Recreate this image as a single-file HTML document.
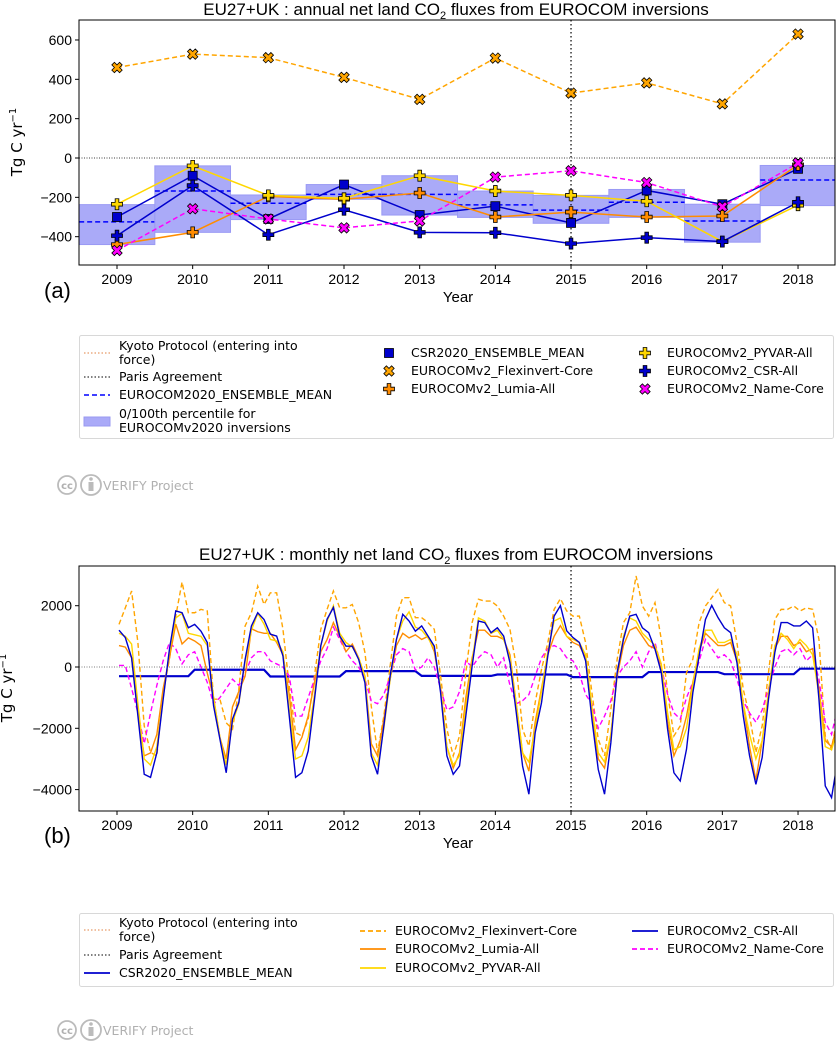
<!DOCTYPE html>
<html><head><meta charset="utf-8">
<style>
html,body{margin:0;padding:0;background:#fff;}
svg{display:block;}
.tick{font-family:"Liberation Sans Narrow","Liberation Sans",sans-serif;font-size:14px;fill:#000;}
.ttl{font-family:"Liberation Sans Narrow","Liberation Sans",sans-serif;font-size:17px;fill:#000;}
.lg{font-family:"DejaVu Sans",sans-serif;font-size:12.5px;fill:#000;}
.ft{font-family:"DejaVu Sans",sans-serif;font-size:12.5px;fill:#b0b0b0;}
</style></head>
<body>
<svg id="fig" width="836" height="1043" viewBox="0 0 836 1043" xmlns="http://www.w3.org/2000/svg">
<defs>
<clipPath id="clipA"><rect x="79" y="20" width="756" height="245"/></clipPath>
<clipPath id="clipB"><rect x="79" y="566" width="756" height="245"/></clipPath>
</defs>
<text class="ttl" x="456" y="15" text-anchor="middle">EU27+UK : annual net land CO<tspan font-size="11" dy="4">2</tspan><tspan dy="-4"> fluxes from EUROCOM inversions</tspan></text>
<g id="gA"></g>
<rect x="79" y="20" width="756" height="245" fill="none" stroke="#000" stroke-width="1"/>
<text x="22" y="142" transform="rotate(-90 22 142)" text-anchor="middle" class="lg" style="font-size:15px">Tg C yr<tspan font-size="10" dy="-6">−1</tspan></text>
<text x="458" y="302" text-anchor="middle" class="tick" style="font-size:15px">Year</text>
<text x="44" y="298" class="tick" style="font-size:22px">(a)</text>

<g>
<rect x="79.5" y="335.5" width="754" height="103" rx="2" fill="#fff" stroke="#d8d8d8"/>
<line x1="84" y1="353" x2="110" y2="353" stroke="#e08040" stroke-dasharray="1.5,2"/>
<text class="lg" x="119" y="350">Kyoto Protocol (entering into</text>
<text class="lg" x="119" y="364">force)</text>
<line x1="84" y1="377" x2="110" y2="377" stroke="#000" stroke-dasharray="1.5,2"/>
<text class="lg" x="119" y="381">Paris Agreement</text>
<line x1="84" y1="395" x2="110" y2="395" stroke="#0000ff" stroke-width="1.5" stroke-dasharray="5,3"/>
<text class="lg" x="119" y="399">EUROCOM2020_ENSEMBLE_MEAN</text>
<rect x="84" y="417" width="26" height="9" fill="#aaaaf8" stroke="#9999f0"/>
<text class="lg" x="119" y="418">0/100th percentile for</text>
<text class="lg" x="119" y="432">EUROCOMv2020 inversions</text>
<g id="legA2"></g>
</g>
<g>
<circle cx="67" cy="485" r="9" fill="none" stroke="#bbb" stroke-width="1.8"/>
<text x="67" y="489" text-anchor="middle" class="ft" style="font-size:10px;font-weight:bold">cc</text>
<circle cx="91" cy="485" r="10" fill="none" stroke="#bbb" stroke-width="1.8"/>
<circle cx="91" cy="479" r="1.8" fill="#bbb"/><rect x="88.5" y="482" width="5" height="9" fill="#bbb"/>
<text class="ft" x="103" y="490">VERIFY Project</text>
</g>

<text class="ttl" x="456" y="560" text-anchor="middle">EU27+UK : monthly net land CO<tspan font-size="11" dy="4">2</tspan><tspan dy="-4"> fluxes from EUROCOM inversions</tspan></text>
<g id="gB"></g>
<rect x="79" y="566" width="756" height="245" fill="none" stroke="#000" stroke-width="1"/>
<text x="12" y="688" transform="rotate(-90 12 688)" text-anchor="middle" class="lg" style="font-size:15px">Tg C yr<tspan font-size="10" dy="-6">−1</tspan></text>
<text x="458" y="848" text-anchor="middle" class="tick" style="font-size:15px">Year</text>
<text x="44" y="843" class="tick" style="font-size:22px">(b)</text>

<g>
<rect x="79.5" y="913.5" width="754" height="73" rx="2" fill="#fff" stroke="#d8d8d8"/>
<line x1="84" y1="930" x2="110" y2="930" stroke="#e08040" stroke-dasharray="1.5,2"/>
<text class="lg" x="119" y="927">Kyoto Protocol (entering into</text>
<text class="lg" x="119" y="941">force)</text>
<line x1="84" y1="955" x2="110" y2="955" stroke="#000" stroke-dasharray="1.5,2"/>
<text class="lg" x="119" y="959">Paris Agreement</text>
<line x1="84" y1="973" x2="110" y2="973" stroke="#0000cd" stroke-width="1.8"/>
<text class="lg" x="119" y="977">CSR2020_ENSEMBLE_MEAN</text>
<g id="legB2"></g>
</g>
<g>
<circle cx="67" cy="1030" r="9" fill="none" stroke="#bbb" stroke-width="1.8"/>
<text x="67" y="1034" text-anchor="middle" class="ft" style="font-size:10px;font-weight:bold">cc</text>
<circle cx="91" cy="1030" r="10" fill="none" stroke="#bbb" stroke-width="1.8"/>
<circle cx="91" cy="1024" r="1.8" fill="#bbb"/><rect x="88.5" y="1027" width="5" height="9" fill="#bbb"/>
<text class="ft" x="103" y="1035">VERIFY Project</text>
</g>
</svg>
<script>
const years = [2009,2010,2011,2012,2013,2014,2015,2016,2017,2018];
const annualYTicks = [-400,-200,0,200,400,600];
const csr2020Annual = [-300,-90,-310,-135,-290,-245,-330,-165,-235,-55];
const flexAnnual = [460,528,510,410,298,508,330,382,275,630];
const lumiaAnnual = [-440,-378,-195,-210,-178,-300,-275,-300,-295,-35];
const pyvarAnnual = [-235,-40,-190,-205,-90,-168,-190,-220,-425,-240];
const csrAllAnnual = [-395,-140,-390,-263,-378,-380,-435,-405,-425,-225];
const nameAnnual = [-470,-258,-310,-355,-320,-97,-65,-125,-248,-25];
const ensMeanAnnual = [-325,-168,-230,-185,-185,-238,-265,-225,-320,-112];
const pctMin = [-440,-378,-313,-210,-290,-302,-332,-302,-428,-242];
const pctMax = [-237,-40,-188,-135,-90,-168,-190,-160,-235,-38];

const monthlyYTicks = [-4000,-2000,0,2000];
const csrAllMonthly = [1200,960,300,-1600,-3500,-3600,-2800,-1060,580,1830,1770,1280,
1390,1170,800,-1270,-2350,-3450,-1700,-1160,250,1340,1770,1550,
1070,1010,360,-1600,-3600,-3450,-2740,-1060,690,1560,1940,1010,
680,680,250,-510,-2900,-3500,-1920,-290,900,1720,1500,1170,
1340,1010,680,-840,-2900,-3500,-3230,-1600,30,1500,1450,1120,
1280,1010,140,-1490,-3230,-4150,-2140,-1170,360,1660,2000,1180,
960,800,200,-1710,-3340,-4150,-2470,-180,900,1660,1720,1280,
1120,580,-180,-2030,-3450,-3720,-2680,-840,360,1550,2010,1610,
1280,1120,140,-1600,-2900,-3830,-2950,-1050,470,1450,1450,1340,
1340,1500,1280,-1050,-3880,-4260,-3000];
const flexMonthly = [1390,1930,2480,790,-1920,-2790,-2900,-840,250,1660,2770,1770,
1770,1880,1830,-1050,-1050,-1820,-2030,-730,1340,1770,2640,2040,
2420,2420,1230,-620,-2140,-2250,-1710,-290,1230,1880,2480,1930,
1930,2040,1450,470,-1270,-2790,-1600,30,1660,2260,2260,1610,
1610,1450,1230,-290,-2030,-2900,-2250,-180,1450,2210,2150,2150,
1990,1660,1230,30,-2030,-2580,-1160,-80,790,1880,2230,1830,
1660,1660,790,-840,-2360,-2900,-1380,250,1450,1770,2970,1990,
1660,2100,900,-840,-2250,-1920,-180,250,1450,1990,2260,2530,
2100,1990,790,-730,-1600,-2790,-1920,-180,1550,1880,1880,1990,
1830,1930,1880,900,-2250,-2680,-1500];
const lumiaMonthly = [700,650,300,-1500,-2900,-2800,-2200,-700,300,1400,750,950,
850,700,-200,-1000,-2300,-3000,-1300,-800,-300,1250,1150,1100,
1100,800,400,-900,-2700,-2300,-1600,-500,500,900,1450,1000,
500,750,300,-300,-2500,-2900,-1700,-400,700,1100,950,1050,
900,1000,500,-700,-2600,-3300,-2800,-1000,300,1200,1200,1000,
1000,900,400,-1200,-2800,-3400,-1800,-700,400,1000,1350,1000,
800,700,300,-1400,-3000,-3300,-2200,-300,700,1200,1300,1000,
700,600,-100,-1800,-2900,-2400,-1600,-500,500,1100,900,700,
700,800,200,-1200,-2600,-3700,-2400,-900,600,1000,1000,700,
800,500,600,-700,-2400,-2600,-1800];
const pyvarMonthly = [1100,1000,750,-1200,-3000,-3200,-2600,-1000,500,1600,1750,1100,
1050,1000,700,-1000,-2300,-3200,-1800,-1200,200,1200,1750,1400,
900,850,500,-1400,-3000,-2900,-2300,-900,700,1500,2000,1100,
800,650,300,-300,-2800,-3200,-2000,-400,900,1500,1800,1300,
1200,950,600,-700,-2600,-3200,-2900,-1300,200,1600,1500,1100,
1200,900,300,-1200,-2800,-3100,-2000,-800,500,1500,1600,1000,
900,800,400,-1300,-2800,-3100,-2200,-200,1000,1600,1500,1100,
900,700,100,-1500,-2700,-2600,-2000,-600,600,1200,1200,800,
800,900,400,-1200,-2200,-3000,-2400,-800,700,1100,900,600,
900,700,400,-900,-2600,-2700,-2000];
const nameMonthly = [50,50,-700,-1500,-2500,-1500,-600,200,800,600,100,400,
500,0,-500,-1200,-1000,-700,-400,-600,-200,300,500,500,
200,100,0,-300,-1600,-1600,-1000,-400,200,600,1300,900,
500,200,0,-400,-1100,-1200,-900,-300,400,600,500,-100,
0,300,0,-700,-1400,-1300,-800,200,0,300,500,400,
0,300,-600,-1200,-1100,-900,-300,300,600,700,600,300,
200,-200,-900,-1200,-2000,-1600,-1100,-300,0,200,500,0,
500,800,0,-900,-1500,-1700,-1000,-500,200,900,600,300,
400,200,-400,-1100,-1500,-1800,-1400,-700,0,500,600,400,
600,200,400,-400,-1800,-2200,-1300];
const csr2020Monthly = [];
for (let i=0;i<csrAllMonthly.length;i++){ csr2020Monthly.push(csr2020Annual[Math.min(Math.floor(i/12),9)]); }

const NS="http://www.w3.org/2000/svg";
function mk(tag, attrs, parent){ const e=document.createElementNS(NS,tag); for(const k in attrs) e.setAttribute(k,attrs[k]); parent.appendChild(e); return e; }

const xYear = y => 117 + (y-2009)*75.67;
const yA = v => 158 - v*0.1967;
const xMonth = i => xYear(2009 + i/12) + 2;
const yB = v => 667 - v*0.03065;

function plusPath(cx,cy,s){ const a=s/2,b=s/6; return `M${cx-b},${cy-a}H${cx+b}V${cy-b}H${cx+a}V${cy+b}H${cx+b}V${cy+a}H${cx-b}V${cy+b}H${cx-a}V${cy-b}H${cx-b}Z`; }
function marker(kind,cx,cy,color,parent){
  let el;
  if(kind==='sq'){ el=mk('rect',{x:cx-4.5,y:cy-4.5,width:9,height:9,fill:color,stroke:'#000','stroke-width':0.8},parent); }
  else if(kind==='plus'){ el=mk('path',{d:plusPath(cx,cy,11),fill:color,stroke:'#000','stroke-width':0.8},parent); }
  else { el=mk('path',{d:plusPath(cx,cy,11),fill:color,stroke:'#000','stroke-width':0.8,transform:`rotate(45 ${cx} ${cy})`},parent); }
  return el;
}

const gA=document.getElementById('gA');
const clA=mk('g',{'clip-path':'url(#clipA)'},gA);
years.forEach((yr,k)=>{
  const r=mk('rect',{x:xYear(yr-0.5),y:yA(pctMax[k]),width:75.67,height:yA(pctMin[k])-yA(pctMax[k]),fill:'#aaaaf8',stroke:'#9a9af4','stroke-width':1},clA);
  
  
  const m=mk('line',{x1:xYear(yr-0.5),x2:xYear(yr+0.5),y1:yA(ensMeanAnnual[k]),y2:yA(ensMeanAnnual[k]),stroke:'#0000ff','stroke-width':1.5,'stroke-dasharray':'5,3'},clA);
  
  
});
let z=mk('line',{x1:79,x2:835,y1:yA(0),y2:yA(0),stroke:'#000','stroke-width':0.8,'stroke-dasharray':'1,1.5'},clA);


let pa=mk('line',{x1:xYear(2015),x2:xYear(2015),y1:20,y2:265,stroke:'#000','stroke-width':1.2,'stroke-dasharray':'1.5,2.5'},clA);


const seriesA=[
 {n:'csr2020',d:csr2020Annual,c:'#0000cd',m:'sq',dash:null,w:1.5},
 {n:'flexinvert',d:flexAnnual,c:'#ffa500',m:'x',dash:'5,3',w:1.5},
 {n:'lumia',d:lumiaAnnual,c:'#ff8c00',m:'plus',dash:null,w:1.5},
 {n:'pyvar',d:pyvarAnnual,c:'#ffd700',m:'plus',dash:null,w:1.5},
 {n:'csr-all',d:csrAllAnnual,c:'#0000cd',m:'plus',dash:null,w:1.5},
 {n:'name-core',d:nameAnnual,c:'#ff00ff',m:'x',dash:'5,3',w:1.5}
];
seriesA.forEach(s=>{
  const pts=s.d.map((v,k)=>xYear(years[k])+','+yA(v)).join(' ');
  const pl=mk('polyline',{points:pts,fill:'none',stroke:s.c,'stroke-width':s.w},clA);
  if(s.dash) pl.setAttribute('stroke-dasharray',s.dash);
  
  
});
seriesA.forEach(s=>{
  s.d.forEach((v,k)=>{
    const mm=marker(s.m,xYear(years[k]),yA(v),s.c,clA);
    
    
  });
});
annualYTicks.forEach(t=>{
  mk('line',{x1:75,x2:79,y1:yA(t),y2:yA(t),stroke:'#000'},gA);
  const tx=mk('text',{x:72,y:yA(t)+5,'text-anchor':'end',class:'tick'},gA);
  tx.textContent=(t<0?'−':'')+Math.abs(t);
  
  
});
years.forEach(yr=>{
  mk('line',{x1:xYear(yr),x2:xYear(yr),y1:265,y2:269,stroke:'#000'},gA);
  const tx=mk('text',{x:xYear(yr),y:284,'text-anchor':'middle',class:'tick'},gA);
  tx.textContent=yr;
  
  
});

const legA2=document.getElementById('legA2');
const legAItems=[
 {x:389,y:353,m:'sq',c:'#0000cd',t:'CSR2020_ENSEMBLE_MEAN'},
 {x:389,y:371,m:'x',c:'#ffa500',t:'EUROCOMv2_Flexinvert-Core'},
 {x:389,y:389,m:'plus',c:'#ff8c00',t:'EUROCOMv2_Lumia-All'},
 {x:645,y:353,m:'plus',c:'#ffd700',t:'EUROCOMv2_PYVAR-All'},
 {x:645,y:371,m:'plus',c:'#0000cd',t:'EUROCOMv2_CSR-All'},
 {x:645,y:389,m:'x',c:'#ff00ff',t:'EUROCOMv2_Name-Core'}
];
legAItems.forEach(it=>{
  const mm=marker(it.m,it.x,it.y,it.c,legA2);
  
  
  const tx=mk('text',{x:it.x+22,y:it.y+4,class:'lg'},legA2);
  tx.textContent=it.t;
  
  
});

const gB=document.getElementById('gB');
const clB=mk('g',{'clip-path':'url(#clipB)'},gB);
z=mk('line',{x1:79,x2:835,y1:yB(0),y2:yB(0),stroke:'#555','stroke-width':0.8,'stroke-dasharray':'1,1.5'},clB);


pa=mk('line',{x1:xYear(2015),x2:xYear(2015),y1:566,y2:811,stroke:'#000','stroke-width':1.2,'stroke-dasharray':'1.5,2.5'},clB);


const seriesB=[
 {n:'csr2020',d:csr2020Monthly,c:'#0000cd',dash:null,w:2.2},
 {n:'flexinvert',d:flexMonthly,c:'#ffa500',dash:'5,3',w:1.4},
 {n:'name-core',d:nameMonthly,c:'#ff00ff',dash:'5,3',w:1.4},
 {n:'lumia',d:lumiaMonthly,c:'#ff8c00',dash:null,w:1.4},
 {n:'pyvar',d:pyvarMonthly,c:'#ffd700',dash:null,w:1.4},
 {n:'csr-all',d:csrAllMonthly,c:'#0000cd',dash:null,w:1.4}
];
seriesB.forEach(s=>{
  const pts=s.d.map((v,i)=>xMonth(i)+','+yB(v)).join(' ');
  const pl=mk('polyline',{points:pts,fill:'none',stroke:s.c,'stroke-width':s.w},clB);
  if(s.dash) pl.setAttribute('stroke-dasharray',s.dash);
  
  
});
monthlyYTicks.forEach(t=>{
  mk('line',{x1:75,x2:79,y1:yB(t),y2:yB(t),stroke:'#000'},gB);
  const tx=mk('text',{x:72,y:yB(t)+5,'text-anchor':'end',class:'tick'},gB);
  tx.textContent=(t<0?'−':'')+Math.abs(t);
  
  
});
years.forEach(yr=>{
  mk('line',{x1:xYear(yr),x2:xYear(yr),y1:811,y2:815,stroke:'#000'},gB);
  const tx=mk('text',{x:xYear(yr),y:830,'text-anchor':'middle',class:'tick'},gB);
  tx.textContent=yr;
  
  
});
const legB2=document.getElementById('legB2');
const legBItems=[
 {x:360,y:931,c:'#ffa500',dash:'5,3',t:'EUROCOMv2_Flexinvert-Core'},
 {x:360,y:949,c:'#ff8c00',dash:null,t:'EUROCOMv2_Lumia-All'},
 {x:360,y:968,c:'#ffd700',dash:null,t:'EUROCOMv2_PYVAR-All'},
 {x:632,y:931,c:'#0000cd',dash:null,t:'EUROCOMv2_CSR-All'},
 {x:632,y:949,c:'#ff00ff',dash:'5,3',t:'EUROCOMv2_Name-Core'}
];
legBItems.forEach(it=>{
  const ln=mk('line',{x1:it.x,x2:it.x+26,y1:it.y,y2:it.y,stroke:it.c,'stroke-width':1.8},legB2);
  if(it.dash) ln.setAttribute('stroke-dasharray',it.dash);
  
  
  const tx=mk('text',{x:it.x+35,y:it.y+4,class:'lg'},legB2);
  tx.textContent=it.t;
  
  
});
</script>
</body></html>
